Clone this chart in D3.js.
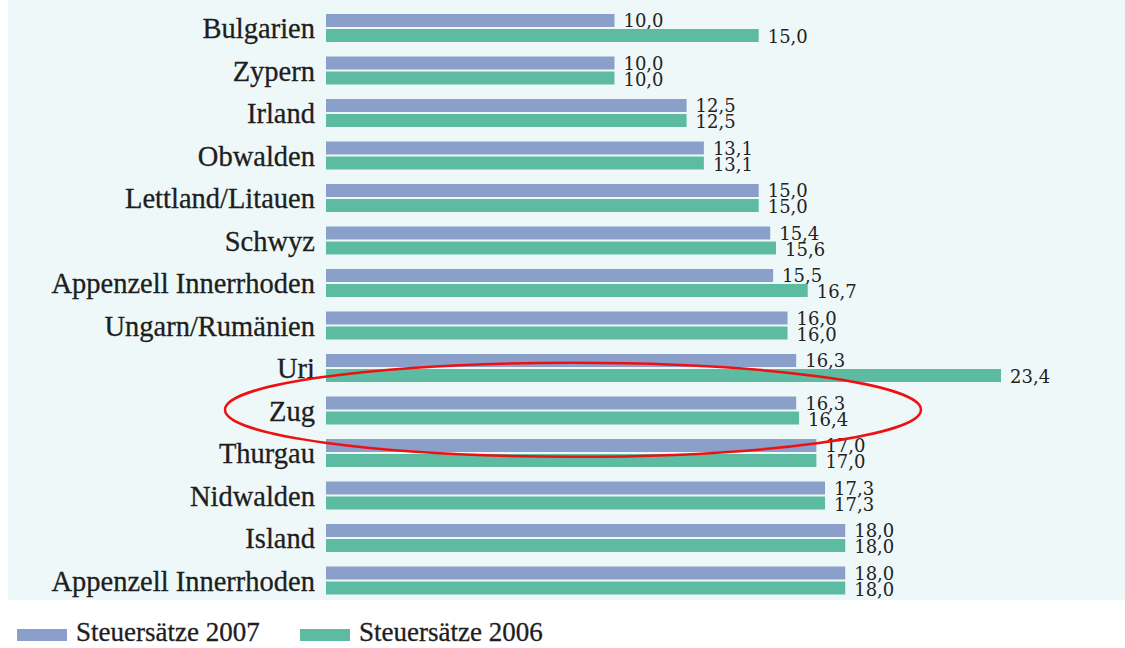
<!DOCTYPE html>
<html>
<head>
<meta charset="utf-8">
<script src="https://cdn.jsdelivr.net/npm/d3@7"></script>
<style>
  body { margin: 0; background: #ffffff; }
</style>
</head>
<body>
<svg id="mainsvg" width="1125" height="648"></svg>
<script>
const regions = ['Bulgarien', 'Zypern', 'Irland', 'Obwalden', 'Lettland/Litauen', 'Schwyz',
    'Appenzell Innerrhoden', 'Ungarn/Rumänien', 'Uri', 'Zug', 'Thurgau', 'Nidwalden',
    'Island', 'Appenzell Innerrhoden'];
const rates2007 = [10.0, 10.0, 12.5, 13.1, 15.0, 15.4, 15.5, 16.0, 16.3, 16.3, 17.0, 17.3, 18.0, 18.0];
const rates2006 = [15.0, 10.0, 12.5, 13.1, 15.0, 15.6, 16.7, 16.0, 23.4, 16.4, 17.0, 17.3, 18.0, 18.0];
const seriesNames = ['Steuersätze 2007', 'Steuersätze 2006'];
const colors = ['#8a9fca', '#5dbba1'];
const highlight = 'Zug';

const svg = d3.select('#mainsvg');

// page tint behind the chart
svg.append('rect').attr('x', 8).attr('y', 0).attr('width', 1117).attr('height', 600)
    .attr('fill', '#eff8f9');

const x = d3.scaleLinear().domain([0, 23.4]).range([326, 1001]);
const y = d3.scaleBand().domain(d3.range(regions.length)).range([8, 603]).paddingInner(0);
const barH = 13;
const gap = 2;
const serif = 'Liberation Serif, DejaVu Serif, serif';

const fmt = v => d3.format('.1f')(v).replace('.', ',');

const rows = svg.append('g').selectAll('g').data(regions).enter()
    .append('g')
    .attr('transform', (d, i) => `translate(0,${y(i)})`);

rows.append('text')
    .attr('x', 315)
    .attr('y', 30)
    .attr('text-anchor', 'end')
    .attr('font-family', serif)
    .attr('font-size', 28.5)
    .attr('fill', '#1e1e1e')
    .attr('stroke', '#1e1e1e')
    .attr('stroke-width', 0.3)
    .text(d => d);

[rates2007, rates2006].forEach((vals, s) => {
    rows.append('rect')
        .attr('x', x(0))
        .attr('y', 6 + s * (barH + gap))
        .attr('width', (d, i) => x(vals[i]) - x(0))
        .attr('height', barH)
        .attr('fill', colors[s]);
    rows.append('text')
        .attr('x', (d, i) => x(vals[i]) + 9)
        .attr('y', 19 + s * 16)
        .attr('font-family', 'DejaVu Serif, serif')
        .attr('font-size', 18)
        .attr('fill', '#222')
        .text((d, i) => fmt(vals[i]));
});

// red ellipse around the highlighted row
const hi = regions.indexOf(highlight);
svg.append('ellipse')
    .attr('cx', 573)
    .attr('cy', y(hi) + y.bandwidth() / 2 - 2)
    .attr('rx', 348)
    .attr('ry', 47)
    .attr('fill', 'none')
    .attr('stroke', '#ee1111')
    .attr('stroke-width', 2.5);

// legend
const legendX = [17, 300];
const legend = svg.append('g').selectAll('g').data(seriesNames).enter()
    .append('g')
    .attr('transform', (d, i) => `translate(${legendX[i]},0)`);
legend.append('rect')
    .attr('x', 0).attr('y', 629).attr('width', 50).attr('height', 12)
    .attr('fill', (d, i) => colors[i]);
legend.append('text')
    .attr('x', 59).attr('y', 641)
    .attr('font-family', serif)
    .attr('font-size', 27)
    .attr('fill', '#1e1e1e')
    .attr('stroke', '#1e1e1e')
    .attr('stroke-width', 0.3)
    .text(d => d);
</script>
</body>
</html>
